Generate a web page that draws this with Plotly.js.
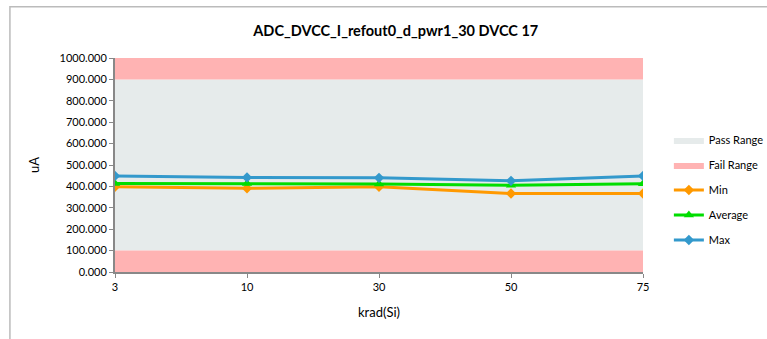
<!DOCTYPE html>
<html><head><meta charset="utf-8">
<script src="https://cdn.plot.ly/plotly-3.0.1.min.js"></script>
<style>html,body{margin:0;padding:0;background:#fff}#c{width:767px;height:339px}</style>
</head><body><div id="c"></div>
<script>
const categories = ['3','10','30','50','75'];
const minVals = [398, 391, 398, 367, 367];
const avgVals = [414, 413, 411, 405, 412];
const maxVals = [449, 442, 440, 426, 449];
const passRange = [100, 900];
const failLow = [0, 100];
const failHigh = [900, 1000];
const yTicks = [0,100,200,300,400,500,600,700,800,900,1000];

const first = categories[0], last = categories[categories.length-1];
function band(r){ return {x:[first,last,last,first,first], y:[r[0],r[0],r[1],r[1],r[0]]}; }
const font = "Lato, 'Open Sans', sans-serif";

const traces = [
  Object.assign(band(passRange), {name:'Pass Range', type:'scatter', mode:'lines', fill:'toself', fillcolor:'#E6EBEB', line:{width:0,color:'#E6EBEB'}, legendgroup:'a', hoverinfo:'skip'}),
  Object.assign(band(failLow), {name:'Fail Range', type:'scatter', mode:'lines', fill:'toself', fillcolor:'#FFB3B3', line:{width:0,color:'#FFB3B3'}, legendgroup:'b', hoverinfo:'skip'}),
  Object.assign(band(failHigh), {name:'Fail Range', type:'scatter', mode:'lines', fill:'toself', fillcolor:'#FFB3B3', line:{width:0,color:'#FFB3B3'}, legendgroup:'b', showlegend:false, hoverinfo:'skip'}),
  {x:categories, y:minVals, name:'Min', type:'scatter', mode:'lines+markers', line:{color:'#FF9900', width:3}, marker:{symbol:'diamond', size:8, color:'#FF9900'}, legendgroup:'c'},
  {x:categories, y:avgVals, name:'Average', type:'scatter', mode:'lines+markers', line:{color:'#00DD00', width:3}, marker:{symbol:'triangle-up', size:9, color:'#00DD00'}, legendgroup:'d'},
  {x:categories, y:maxVals, name:'Max', type:'scatter', mode:'lines+markers', line:{color:'#3399CC', width:3}, marker:{symbol:'diamond', size:8, color:'#3399CC'}, legendgroup:'e'}
];

const layout = {
  width:767, height:339,
  margin:{l:115, r:124, t:58, b:67, autoexpand:false},
  paper_bgcolor:'#fff', plot_bgcolor:'rgba(0,0,0,0)',
  font:{family:font, size:11, color:'#000'},
  title:{text:'<b>ADC_DVCC_I_refout0_d_pwr1_30 DVCC 17</b>', font:{family:font, size:14.5, color:'#000'}, x:0.516, xanchor:'center', y:0.91, yanchor:'middle'},
  xaxis:{type:'category', categoryorder:'array', categoryarray:categories, range:[0, categories.length-1],
    showgrid:false, zeroline:false, showline:true, linecolor:'#888', linewidth:2, ticks:'outside', ticklen:4, tickcolor:'#888',
    title:{text:'krad(Si)', font:{size:13, family:font}, standoff:16}, tickfont:{size:11}},
  yaxis:{range:[0,1000], tickvals:yTicks, tickformat:'.3f', showgrid:false, zeroline:false, showline:true, linecolor:'#888', linewidth:2,
    ticks:'outside', ticklen:4, tickcolor:'#888', title:{text:'uA', font:{size:13, family:font}, standoff:17}, tickfont:{size:11}},
  legend:{x:1.049, xanchor:'left', y:0.383, yanchor:'middle', traceorder:'grouped', tracegroupgap:6, font:{size:11, family:font}, bgcolor:'rgba(0,0,0,0)'},
  showlegend:true,
  shapes:[{type:'rect', xref:'paper', yref:'paper', x0:-0.199, x1:1.3, y0:-0.6, y1:1.24, line:{color:'#BBBBBB', width:1.5}, fillcolor:'rgba(0,0,0,0)', layer:'below'}]
};
Plotly.newPlot('c', traces, layout, {displayModeBar:false, staticPlot:true});
</script></body></html>
